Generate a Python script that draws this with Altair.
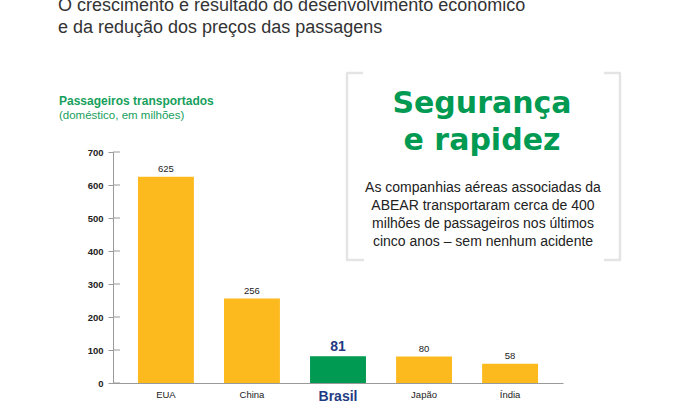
import altair as alt
import pandas as pd

# ---- data ----
countries = ["EUA", "China", "Brasil", "Japão", "Índia"]
passengers = [625, 256, 81, 80, 58]
y_ticks = [0, 100, 200, 300, 400, 500, 600, 700]

headline = ["O crescimento é resultado do desenvolvimento econômico",
            "e da redução dos preços das passagens"]
chart_title = "Passageiros transportados"
chart_subtitle = " (doméstico, em milhões)"
box_title = ["Segurança", "e rapidez"]
box_body = ["As companhias aéreas associadas da",
            "ABEAR transportaram cerca de 400",
            "milhões de passageiros nos últimos",
            "cinco anos – sem nenhum acidente"]

df = pd.DataFrame({"pais": countries, "valor": passengers})
ticks_df = pd.DataFrame({"tick": y_ticks})
one = pd.DataFrame({"k": [0]})

W, H = 450, 231
FONT = "Liberation Sans"
YELLOW = "#FDBA1E"
GREEN = "#009A52"
BLUE = "#1F3B82"
TGREEN = "#16A05C"
GRAY = "#E4E4E4"

xscale = alt.Scale(domain=countries, paddingInner=0.35, paddingOuter=0.29)
yscale = alt.Scale(domain=[0, 700], nice=False)
xaxis = alt.Axis(labels=False, ticks=False, title=None,
                 domainColor="#9a9a9a", domainWidth=1)
yaxis = alt.Axis(values=y_ticks, tickSize=5, labelPadding=5, title=None,
                 grid=False, domainColor="#9a9a9a", tickColor="#9a9a9a",
                 labelOverlap=False,
                 labelFont=FONT, labelFontSize=9.5, labelColor="#222",
                 labelFontWeight="bold")


def X():
    return alt.X("pais:N", scale=xscale, sort=countries, axis=xaxis)


def Y(field="valor:Q"):
    return alt.Y(field, scale=yscale, axis=yaxis)


base = alt.Chart(df)

bars = base.mark_bar().encode(
    x=X(), y=Y(),
    color=alt.condition(alt.datum.pais == "Brasil", alt.value(GREEN), alt.value(YELLOW)),
)

inner_ticks = alt.Chart(ticks_df).mark_rule(color="#9a9a9a", strokeWidth=1).encode(
    y=Y("tick:Q"), x=alt.value(0), x2=alt.value(7))

vals = base.transform_filter(alt.datum.pais != "Brasil").mark_text(
    font=FONT, fontSize=9.5, color="#222", baseline="middle", dy=-8).encode(
    x=X(), y=Y(), text="valor:Q")

val_br = base.transform_filter(alt.datum.pais == "Brasil").mark_text(
    font=FONT, fontSize=14, fontWeight="bold", color=BLUE, baseline="middle", dy=-9).encode(
    x=X(), y=Y(), text="valor:Q")

xlab = base.transform_filter(alt.datum.pais != "Brasil").mark_text(
    font=FONT, fontSize=9.5, color="#222", baseline="middle").encode(
    x=X(), y=alt.value(H + 12), text="pais:N")

xlab_br = base.transform_filter(alt.datum.pais == "Brasil").mark_text(
    font=FONT, fontSize=14, fontWeight="bold", color=BLUE, baseline="middle").encode(
    x=X(), y=alt.value(H + 14), text="pais:N")

layers = [bars, inner_ticks, vals, val_br, xlab, xlab_br]


def txt(s, x, y, font=FONT, **kw):
    return alt.Chart(one).mark_text(text=s, font=font, **kw).encode(
        x=alt.value(x), y=alt.value(y))


def rule(x1, y1, x2, y2):
    return alt.Chart(one).mark_rule(color=GRAY, strokeWidth=2.5).encode(
        x=alt.value(x1), y=alt.value(y1), x2=alt.value(x2), y2=alt.value(y2))


# headline (top line is cut by the top edge, as in the reference)
for s, yy in zip(headline, [-141, -119]):
    layers.append(txt(s, -55, yy, fontSize=18, color="#333", align="left",
                      baseline="alphabetic"))

# chart title
layers.append(txt(chart_title, -54, -47, fontSize=12, fontWeight="bold",
                  color=TGREEN, align="left", baseline="alphabetic"))
layers.append(txt(chart_subtitle, -54, -33, fontSize=11.5, color=TGREEN,
                  align="left", baseline="alphabetic"))

# box brackets
layers += [rule(234, -79, 234, 108), rule(233, -79, 250, -79), rule(233, 108, 251, 108),
           rule(507, -79, 507, 108), rule(491, -79, 508, -79), rule(491, 108, 508, 108)]

# box title
for s, yy in zip(box_title, [-39, -2]):
    layers.append(txt(s, 369, yy, font="DejaVu Sans", fontSize=30, fontWeight="bold",
                      color=GREEN, align="center", baseline="alphabetic"))

for s, yy in zip(box_body, [36, 54, 72, 90]):
    layers.append(txt(s, 370, yy, fontSize=14, color="#222", align="center",
                      baseline="middle"))

chart = alt.layer(*layers).properties(
    width=W, height=H,
    autosize=alt.AutoSizeParams(type="none"),
    padding={"left": 113, "top": 152, "right": 117, "bottom": 36},
    background="white",
).configure_view(stroke=None)

chart.save("out.html", embed_options={"renderer": "svg", "actions": False})
